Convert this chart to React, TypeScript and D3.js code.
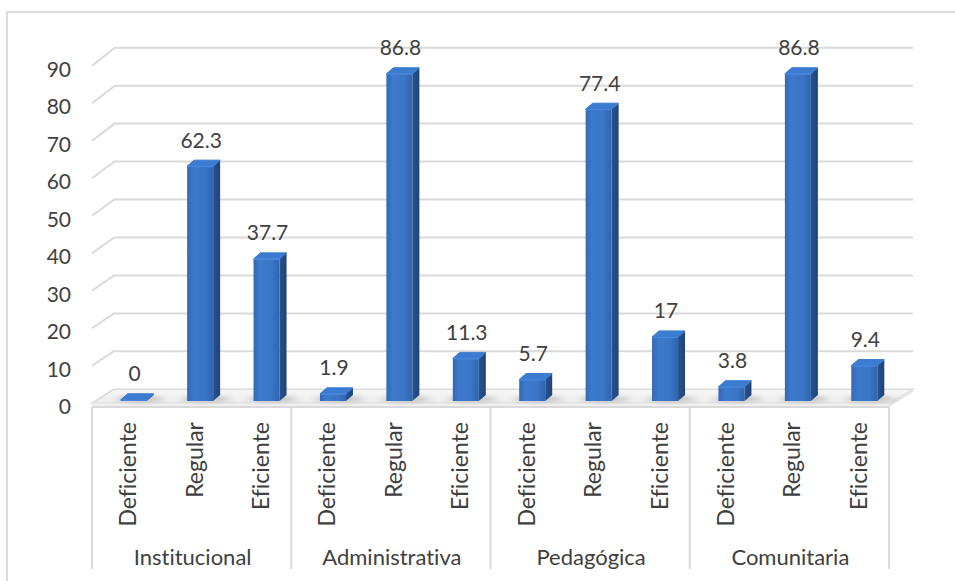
import React from "react";
import * as d3 from "d3";

const groups = ["Institucional", "Administrativa", "Pedagógica", "Comunitaria"];
const levels = ["Deficiente", "Regular", "Eficiente"];
const values = [
  [0, 62.3, 37.7],
  [1.9, 86.8, 11.3],
  [5.7, 77.4, 17],
  [3.8, 86.8, 9.4],
];
const yTicks = [0, 10, 20, 30, 40, 50, 60, 70, 80, 90];

const W = 955;
const H = 581;
const FONT = "Lato, 'Open Sans', sans-serif";
const TXT = "#404040";
const GRID = "#d9d9d9";

export default function App() {
  const items = groups.flatMap((g, gi) =>
    levels.map((l, li) => ({ key: `${g}-${l}`, group: g, level: l, value: values[gi][li] }))
  );
  const x = d3.scaleBand<string>().domain(items.map((d) => d.key)).range([92, 889]).padding(0);
  const gx = d3.scaleBand<string>().domain(groups).range([92, 889]).padding(0);
  const yFront = d3.scaleLinear().domain([0, 90]).range([403.3, 65.7]);
  const yBack = d3.scaleLinear().domain([0, 90]).range([389.3, 47.7]);
  const xBackLeft = d3.scaleLinear().domain([0, 90]).range([113.5, 115]);
  const hBar = d3.scaleLinear().domain([0, 100]).range([0, 377]);

  const baseY = 401;
  const barW = 26;
  const dX = 7;
  const dY = 6;
  const backRight = 913;

  return (
    <svg
      width={W}
      height={H}
      style={{ position: "fixed", left: 0, top: 0, background: "#fff", fontVariantLigatures: "none" }}
      fontFamily={FONT}
    >
      <defs>
        <linearGradient id="front" x1="0" x2="1" y1="0" y2="0">
          <stop offset="0" stopColor="#3568b5" />
          <stop offset="0.25" stopColor="#3c7acd" />
          <stop offset="0.7" stopColor="#3a75c6" />
          <stop offset="1" stopColor="#3064ae" />
        </linearGradient>
        <linearGradient id="side" x1="0" x2="1" y1="0" y2="0">
          <stop offset="0" stopColor="#28528f" />
          <stop offset="1" stopColor="#204476" />
        </linearGradient>
        <linearGradient id="floorGrad" x1="0" x2="0" y1="0" y2="1">
          <stop offset="0" stopColor="#f7f7f7" />
          <stop offset="1" stopColor="#ececec" />
        </linearGradient>
        <filter id="blur" x="-50%" y="-200%" width="200%" height="500%">
          <feGaussianBlur stdDeviation="4 2" />
        </filter>
      </defs>

      {/* outer frame */}
      <rect x={7} y={12} width={980} height={600} fill="none" stroke={GRID} strokeWidth={2} />

      {/* gridlines */}
      {yTicks.slice(1).map((t) => (
        <polyline
          key={t}
          points={`92,${yFront(t)} ${xBackLeft(t)},${yBack(t)} ${backRight},${yBack(t)}`}
          fill="none"
          stroke={GRID}
          strokeWidth={2}
        />
      ))}

      {/* floor */}
      <polygon
        points={`92,${yFront(0)} ${xBackLeft(0)},${yBack(0)} ${backRight},${yBack(0)} 889,${yFront(0)}`}
        fill="url(#floorGrad)"
        stroke={GRID}
        strokeWidth={1.5}
      />
      <rect x={92} y={yFront(0)} width={889 - 92} height={407 - yFront(0)} fill="#f0f0f0" />
      <polygon
        points={`889,${yFront(0)} ${backRight},${yBack(0)} ${backRight},${yBack(0) + 3} 889,407`}
        fill="#e6e6e6"
      />

      {/* shadows */}
      {items.map((d) => {
        const cx = (x(d.key) as number) + x.bandwidth() / 2 + 8.5;
        return (
          <ellipse
            key={"s" + d.key}
            cx={cx + 6}
            cy={baseY - 2}
            rx={24}
            ry={3}
            fill="#9a9a9a"
            opacity={0.55}
            filter="url(#blur)"
          />
        );
      })}

      {/* bars */}
      {items.map((d) => {
        const cx = (x(d.key) as number) + x.bandwidth() / 2 + 8.5;
        const x0 = cx - barW / 2;
        const x1 = cx + barW / 2;
        const h = Math.max(hBar(d.value), 1.2);
        const top = baseY - h;
        const capTop = top - dY;
        return (
          <g key={d.key}>
            <path
              d={`M${x1},${top} L${x1 + dX},${top - dY} L${x1 + dX},${baseY - dY} L${x1},${baseY} Z`}
              fill="url(#side)"
            />
            <rect x={x0} y={top} width={barW} height={h} fill="url(#front)" />
            <path
              d={`M${x0},${top} L${x0 + dX},${top - dY} L${x1 + dX},${top - dY} L${x1},${top} Z`}
              fill="#3b7bd0"
              stroke="#3b7bd0"
              strokeWidth={1}
              strokeLinejoin="round"
            />
            <line x1={x0 + 0.5} y1={top + 0.5} x2={x1} y2={top + 0.5} stroke="#4a8ae0" strokeWidth={1} />
            <text x={cx + 1} y={capTop - 12.5} textAnchor="middle" fontSize={21} fill={TXT}>
              {String(d.value)}
            </text>
          </g>
        );
      })}

      {/* y tick labels */}
      {yTicks.map((t) => (
        <text key={"t" + t} x={71} y={yFront(t) + 11} textAnchor="end" fontSize={21} fill={TXT}>
          {t}
        </text>
      ))}

      {/* category axis box */}
      <line x1={92} x2={889} y1={407} y2={407} stroke={GRID} strokeWidth={2} />
      {groups.map((g) => (
        <line
          key={"v" + g}
          x1={gx(g) as number}
          x2={gx(g) as number}
          y1={407}
          y2={569}
          stroke={GRID}
          strokeWidth={2}
        />
      ))}
      <line x1={889} x2={889} y1={407} y2={569} stroke={GRID} strokeWidth={2} />

      {/* rotated subcategory labels */}
      {items.map((d) => {
        const cx = (x(d.key) as number) + x.bandwidth() / 2 + 2;
        return (
          <text
            key={"l" + d.key}
            transform={`translate(${cx},422) rotate(-90)`}
            textAnchor="end"
            dominantBaseline="central"
            fontSize={23}
            fill={TXT}
          >
            {d.level}
          </text>
        );
      })}

      {/* group labels */}
      {groups.map((g) => (
        <text
          key={"g" + g}
          x={(gx(g) as number) + gx.bandwidth() / 2 + 1}
          y={565}
          textAnchor="middle"
          fontSize={22}
          fill={TXT}
        >
          {g}
        </text>
      ))}
    </svg>
  );
}
